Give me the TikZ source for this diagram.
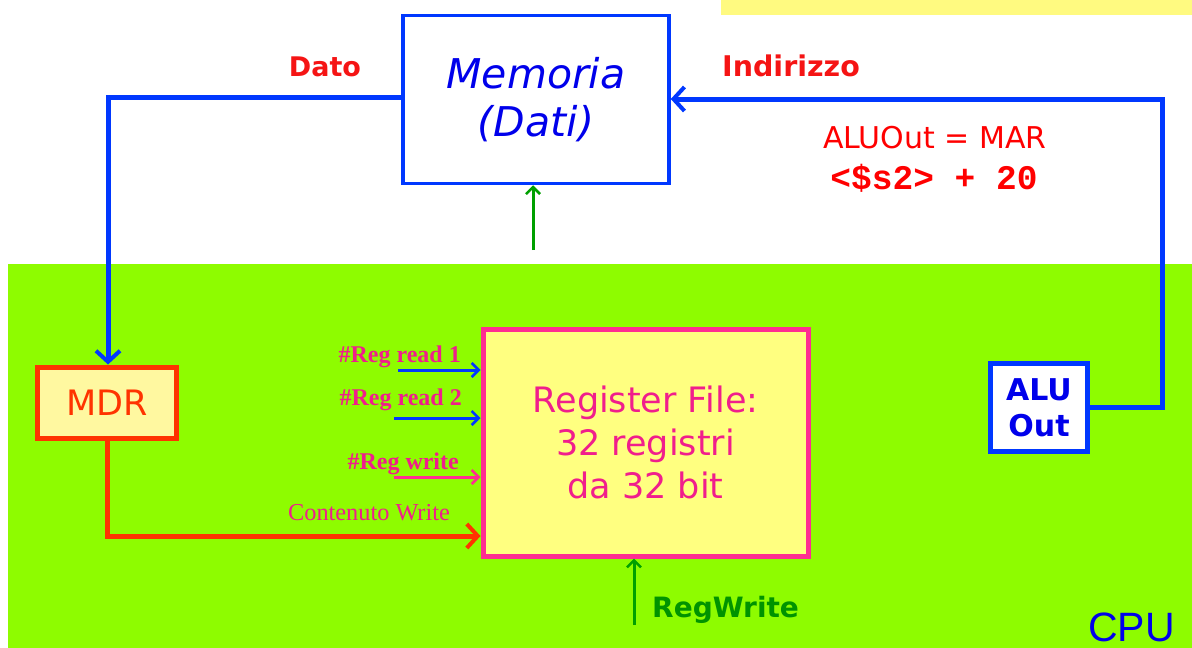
\documentclass[tikz,border=0pt]{standalone}
\usepackage{fontspec}
\setmainfont{Liberation Serif}
\setsansfont{DejaVu Sans}
\newfontfamily\arialfont{Liberation Sans}
\newfontfamily\courfont{Liberation Mono}
\usetikzlibrary{arrows.meta}

\definecolor{cpugreen}{RGB}{142,252,0}
\definecolor{notepad}{RGB}{255,250,128}
\definecolor{busblue}{RGB}{0,56,255}
\definecolor{txtblue}{RGB}{0,0,235}
\definecolor{sigred}{RGB}{245,20,20}
\definecolor{mdrred}{RGB}{255,51,0}
\definecolor{mdrfill}{RGB}{255,248,160}
\definecolor{rfpink}{RGB}{255,45,145}
\definecolor{rftext}{RGB}{240,30,140}
\definecolor{rffill}{RGB}{255,255,128}
\definecolor{ctlgreen}{RGB}{0,160,0}

\tikzset{
  x=1pt, y=-1pt,
  barb/.style={-{Straight Barb[length=11pt,width=24pt,line width=4pt]}},
  smallbarb/.style={-{Straight Barb[length=7pt,width=14pt,line width=2.5pt]}},
  bus/.style={busblue, line width=5pt, barb},
  membox/.style={draw=busblue, line width=3.5pt, fill=white, minimum width=266pt, minimum height=168pt,
    inner sep=0pt, align=center, text=txtblue, font=\sffamily\itshape\fontsize{41}{48}\selectfont},
  mdrbox/.style={draw=mdrred, line width=5pt, fill=mdrfill, minimum width=139pt, minimum height=71pt,
    inner sep=0pt, text=mdrred, font=\sffamily\fontsize{35}{40}\selectfont},
  rfbox/.style={draw=rfpink, line width=5pt, fill=rffill, minimum width=325pt, minimum height=227pt,
    inner sep=0pt, align=center, text=rftext, font=\sffamily\fontsize{35}{43}\selectfont},
  alubox/.style={draw=busblue, line width=5pt, fill=white, minimum width=97pt, minimum height=88pt,
    inner sep=0pt, align=center, text=txtblue, font=\sffamily\bfseries\fontsize{30}{36}\selectfont},
  buslabel/.style={anchor=base, text=sigred, font=\sffamily\bfseries\fontsize{27}{30}\selectfont},
  reglabel/.style={anchor=base east, inner sep=0pt, text=rftext, font=\bfseries\fontsize{24}{27}\selectfont},
}

\begin{document}
\begin{tikzpicture}
\useasboundingbox (0,0) rectangle (1192,648);

% backgrounds
\fill[notepad] (721,0) rectangle (1192,15);
\fill[cpugreen] (8,264) rectangle (1192,648);

% blocks
\node[membox] (mem) at (536,99.5) {Memoria\\(Dati)};
\node[mdrbox] (mdr) at (107,402.5) {MDR};
\node[rfbox] (rf) at (645.5,442.5) {Register File:\\32 registri\\da 32 bit};
\node[alubox] (alu) at (1039,407.5) {ALU\\Out};

% data path: memory -> MDR
\coordinate (dTurn) at (108,97);
\draw[bus] (mem.west |- dTurn) -- (dTurn) -- (mdr.north -| dTurn);
\node[buslabel] (dato) at (325,76) {Dato};

% address path: ALUOut -> memory
\coordinate (aTurnLo) at (1162,407);
\coordinate (aTurnHi) at (1162,99);
\draw[bus] (alu.east |- aTurnLo) -- (aTurnLo) -- (aTurnHi) -- (mem.east |- aTurnHi);
\node[buslabel, font=\sffamily\bfseries\fontsize{28.5}{30}\selectfont] (ind) at (791,76) {Indirizzo};
\node[anchor=base, text=red, font=\sffamily\fontsize{30}{32}\selectfont] (addr1) at (935,148) {ALUOut = MAR};
\node[anchor=base, text=red, font=\courfont\bfseries\fontsize{34.5}{36}\selectfont] (addr2) at (934,189) {<\$s2> + 20};

% memory control
\coordinate (memCtl) at (533,250);
\draw[ctlgreen, line width=3pt, smallbarb] (memCtl) -- (mem.south -| memCtl);

% MDR -> register file write data
\coordinate (wTurn) at (107,536);
\draw[mdrred, line width=5pt, barb] (mdr.south -| wTurn) -- (wTurn) -- (rf.west |- wTurn);
\node[anchor=base, inner sep=0pt, text=rftext, font=\fontsize{24.3}{27}\selectfont] (cw) at (369,520) {Contenuto Write};

% register numbers
\coordinate (r1) at (398,370);
\coordinate (r2) at (394,418);
\coordinate (rw) at (394,477);
\draw[busblue, line width=3pt, smallbarb] (r1) -- (rf.west |- r1);
\draw[busblue, line width=3pt, smallbarb] (r2) -- (rf.west |- r2);
\draw[rfpink, line width=3pt, smallbarb] (rw) -- (rf.west |- rw);
\node[reglabel] (l1) at (461,362) {\#Reg read 1};
\node[reglabel] (l2) at (462,405) {\#Reg read 2};
\node[reglabel] (l3) at (459,469) {\#Reg write};

% register write enable
\coordinate (rwCtl) at (634,625);
\draw[ctlgreen, line width=3pt, smallbarb] (rwCtl) -- (rf.south -| rwCtl);
\node[anchor=base west, inner sep=0pt, text=ctlgreen!92!black, font=\sffamily\bfseries\fontsize{28}{30}\selectfont] (rwl) at (652,617) {RegWrite};

\node[anchor=base west, inner sep=0pt, text=txtblue, font=\arialfont\fontsize{41}{44}\selectfont] (cpu) at (1088,641) {CPU};
\end{tikzpicture}
\end{document}
